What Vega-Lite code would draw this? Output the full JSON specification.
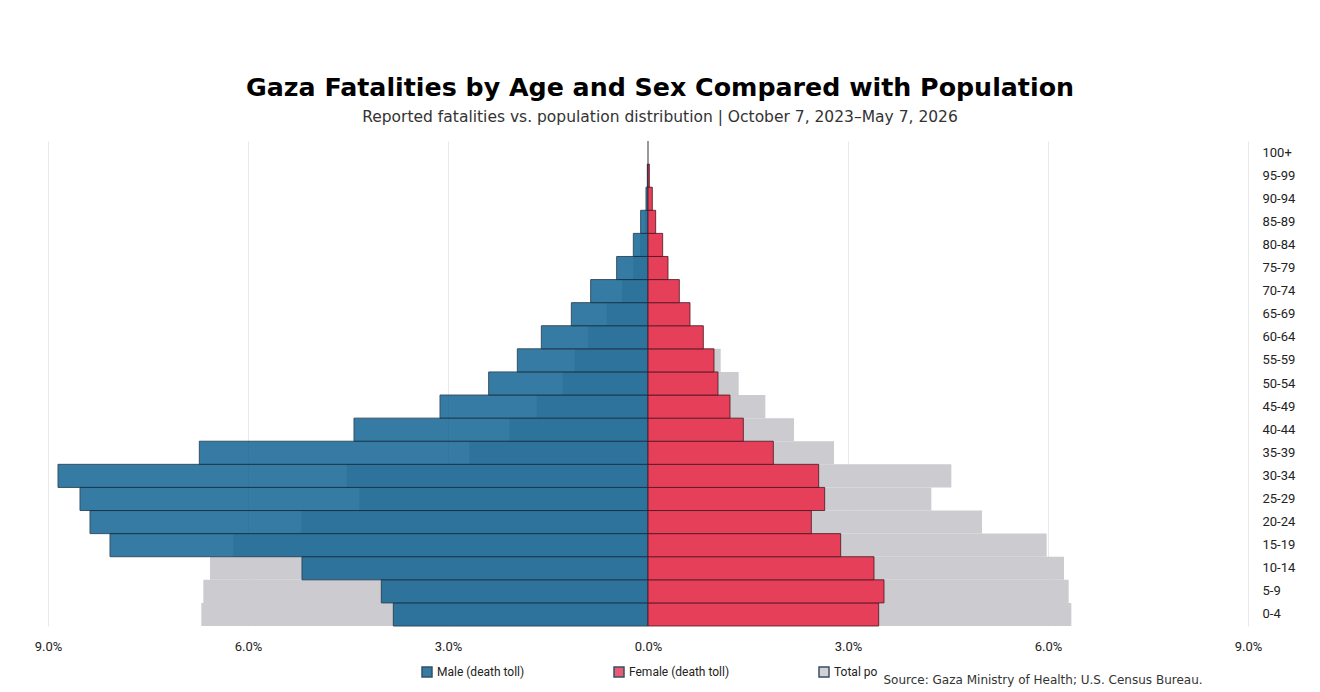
{
  "$schema": "https://vega.github.io/schema/vega-lite/v6.json",
  "autosize": {"type": "none"},
  "width": 1200,
  "height": 485,
  "padding": {"left": 48, "top": 141, "right": 72, "bottom": 66},
  "background": "white",
  "title": {
    "text": "Gaza Fatalities by Age and Sex Compared with Population",
    "subtitle": "Reported fatalities vs. population distribution | October 7, 2023\u2013May 7, 2026",
    "anchor": "middle",
    "dx": 12,
    "offset": 15,
    "font": "DejaVu Sans",
    "fontSize": 25.3,
    "fontWeight": "bold",
    "color": "#000000",
    "subtitleFont": "DejaVu Sans",
    "subtitleFontSize": 15.5,
    "subtitleColor": "#333333",
    "subtitlePadding": 9
  },
  "config": {
    "view": {"stroke": null},
    "axis": {
      "labelFont": "Roboto",
      "labelFontSize": 13,
      "labelColor": "#222222"
    },
    "legend": {
      "labelFont": "Roboto",
      "labelFontSize": 12,
      "labelColor": "#222222"
    }
  },
  "data": {
    "values": [
      {"age": "0-4", "group": "Male (death toll)", "value": -3.82},
      {"age": "5-9", "group": "Male (death toll)", "value": -4.0},
      {"age": "10-14", "group": "Male (death toll)", "value": -5.19},
      {"age": "15-19", "group": "Male (death toll)", "value": -8.07},
      {"age": "20-24", "group": "Male (death toll)", "value": -8.37},
      {"age": "25-29", "group": "Male (death toll)", "value": -8.52},
      {"age": "30-34", "group": "Male (death toll)", "value": -8.85},
      {"age": "35-39", "group": "Male (death toll)", "value": -6.73},
      {"age": "40-44", "group": "Male (death toll)", "value": -4.41},
      {"age": "45-49", "group": "Male (death toll)", "value": -3.12},
      {"age": "50-54", "group": "Male (death toll)", "value": -2.39},
      {"age": "55-59", "group": "Male (death toll)", "value": -1.96},
      {"age": "60-64", "group": "Male (death toll)", "value": -1.6},
      {"age": "65-69", "group": "Male (death toll)", "value": -1.15},
      {"age": "70-74", "group": "Male (death toll)", "value": -0.86},
      {"age": "75-79", "group": "Male (death toll)", "value": -0.47},
      {"age": "80-84", "group": "Male (death toll)", "value": -0.22},
      {"age": "85-89", "group": "Male (death toll)", "value": -0.11},
      {"age": "90-94", "group": "Male (death toll)", "value": -0.03},
      {"age": "95-99", "group": "Male (death toll)", "value": -0.01},
      {"age": "0-4", "group": "Female (death toll)", "value": 3.46},
      {"age": "5-9", "group": "Female (death toll)", "value": 3.54},
      {"age": "10-14", "group": "Female (death toll)", "value": 3.39},
      {"age": "15-19", "group": "Female (death toll)", "value": 2.89},
      {"age": "20-24", "group": "Female (death toll)", "value": 2.45},
      {"age": "25-29", "group": "Female (death toll)", "value": 2.65},
      {"age": "30-34", "group": "Female (death toll)", "value": 2.56},
      {"age": "35-39", "group": "Female (death toll)", "value": 1.88},
      {"age": "40-44", "group": "Female (death toll)", "value": 1.43},
      {"age": "45-49", "group": "Female (death toll)", "value": 1.23},
      {"age": "50-54", "group": "Female (death toll)", "value": 1.05},
      {"age": "55-59", "group": "Female (death toll)", "value": 0.99},
      {"age": "60-64", "group": "Female (death toll)", "value": 0.83},
      {"age": "65-69", "group": "Female (death toll)", "value": 0.63},
      {"age": "70-74", "group": "Female (death toll)", "value": 0.47},
      {"age": "75-79", "group": "Female (death toll)", "value": 0.3},
      {"age": "80-84", "group": "Female (death toll)", "value": 0.22},
      {"age": "85-89", "group": "Female (death toll)", "value": 0.115},
      {"age": "90-94", "group": "Female (death toll)", "value": 0.065},
      {"age": "95-99", "group": "Female (death toll)", "value": 0.02},
      {"age": "0-4", "group": "Total population", "value": -6.7},
      {"age": "5-9", "group": "Total population", "value": -6.67},
      {"age": "10-14", "group": "Total population", "value": -6.57},
      {"age": "15-19", "group": "Total population", "value": -6.22},
      {"age": "20-24", "group": "Total population", "value": -5.2},
      {"age": "25-29", "group": "Total population", "value": -4.33},
      {"age": "30-34", "group": "Total population", "value": -4.52},
      {"age": "35-39", "group": "Total population", "value": -2.68},
      {"age": "40-44", "group": "Total population", "value": -2.08},
      {"age": "45-49", "group": "Total population", "value": -1.67},
      {"age": "50-54", "group": "Total population", "value": -1.28},
      {"age": "55-59", "group": "Total population", "value": -1.1},
      {"age": "60-64", "group": "Total population", "value": -0.9},
      {"age": "65-69", "group": "Total population", "value": -0.62},
      {"age": "70-74", "group": "Total population", "value": -0.39},
      {"age": "75-79", "group": "Total population", "value": -0.22},
      {"age": "80-84", "group": "Total population", "value": -0.12},
      {"age": "85-89", "group": "Total population", "value": -0.05},
      {"age": "90-94", "group": "Total population", "value": -0.02},
      {"age": "95-99", "group": "Total population", "value": -0.01},
      {"age": "0-4", "group": "Total population", "value": 6.35},
      {"age": "5-9", "group": "Total population", "value": 6.31},
      {"age": "10-14", "group": "Total population", "value": 6.24},
      {"age": "15-19", "group": "Total population", "value": 5.98},
      {"age": "20-24", "group": "Total population", "value": 5.01},
      {"age": "25-29", "group": "Total population", "value": 4.25},
      {"age": "30-34", "group": "Total population", "value": 4.55},
      {"age": "35-39", "group": "Total population", "value": 2.79},
      {"age": "40-44", "group": "Total population", "value": 2.19},
      {"age": "45-49", "group": "Total population", "value": 1.76},
      {"age": "50-54", "group": "Total population", "value": 1.36},
      {"age": "55-59", "group": "Total population", "value": 1.09},
      {"age": "60-64", "group": "Total population", "value": 0.8},
      {"age": "65-69", "group": "Total population", "value": 0.58},
      {"age": "70-74", "group": "Total population", "value": 0.4},
      {"age": "75-79", "group": "Total population", "value": 0.25},
      {"age": "80-84", "group": "Total population", "value": 0.15},
      {"age": "85-89", "group": "Total population", "value": 0.07},
      {"age": "90-94", "group": "Total population", "value": 0.03},
      {"age": "95-99", "group": "Total population", "value": 0.01}
    ]
  },
  "encoding": {
    "y": {
      "field": "age",
      "type": "ordinal",
      "scale": {
        "domain": ["100+", "95-99", "90-94", "85-89", "80-84", "75-79", "70-74", "65-69", "60-64", "55-59", "50-54", "45-49", "40-44", "35-39", "30-34", "25-29", "20-24", "15-19", "10-14", "5-9", "0-4"],
        "paddingInner": 0,
        "paddingOuter": 0
      },
      "axis": {
        "orient": "right",
        "title": null,
        "domain": false,
        "ticks": false,
        "labelPadding": 14,
        "labelAlign": "left"
      }
    },
    "x": {
      "field": "value",
      "type": "quantitative",
      "scale": {"domain": [-9, 9], "nice": false},
      "axis": {
        "values": [-9, -6, -3, 0, 3, 6, 9],
        "labelExpr": "format(abs(datum.value), '.1f') + '%'",
        "labelFlush": false,
        "grid": true,
        "gridColor": "#e8e8e8",
        "domain": false,
        "ticks": false,
        "labelPadding": 14,
        "title": "Source: Gaza Ministry of Health; U.S. Census Bureau.",
        "titleFont": "DejaVu Sans",
        "titleFontSize": 12,
        "titleFontWeight": "normal",
        "titleColor": "#333333",
        "titleAnchor": "start",
        "titleAlign": "left",
        "titleBaseline": "middle",
        "titleX": 835,
        "titleY": 53
      }
    },
    "color": {
      "field": "group",
      "type": "nominal",
      "scale": {
        "domain": ["Male (death toll)", "Female (death toll)", "Total population"],
        "range": ["#126493", "#e63f5a", "#cbcbd0"]
      },
      "legend": {
        "title": null,
        "orient": "none",
        "direction": "horizontal",
        "legendX": 373,
        "legendY": 525,
        "symbolType": "square",
        "symbolSize": 100,
        "symbolOpacity": 0.85,
        "symbolOffset": 0,
        "labelOffset": 4,
        "columnPadding": 86,
        "labelExpr": "datum.label == 'Total population' ? 'Total po' : datum.label"
      }
    }
  },
  "layer": [
    {
      "transform": [{"filter": "datum.group == 'Total population'"}],
      "mark": {"type": "bar"}
    },
    {
      "mark": {"type": "rule", "color": "#999999", "strokeWidth": 1},
      "encoding": {"x": {"datum": 0}, "y": null, "color": null}
    },
    {
      "transform": [{"filter": "datum.group == 'Male (death toll)'"}],
      "mark": {"type": "bar", "opacity": 0.85, "stroke": "#15324a", "strokeWidth": 1}
    },
    {
      "transform": [{"filter": "datum.group == 'Female (death toll)'"}],
      "mark": {"type": "bar", "stroke": "#4a1520", "strokeWidth": 0.8}
    }
  ]
}
